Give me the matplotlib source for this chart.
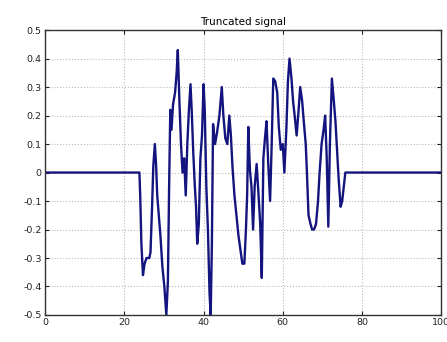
import numpy as np
import matplotlib
matplotlib.use("Agg")
import matplotlib.pyplot as plt

# signal samples (time, amplitude)
sig_t = [0, 23.8, 24.0, 24.3, 24.7, 25.1, 25.6, 26.3, 26.6, 27.0, 27.3, 27.7,
         28.0, 28.3, 28.7, 29.1, 29.6, 30.1, 30.6, 31.0, 31.3, 31.6, 31.9, 32.3,
         32.8, 33.2, 33.5, 33.9, 34.3, 34.7, 35.1, 35.5, 35.9, 36.3, 36.7, 37.0,
         37.4, 37.8, 38.1, 38.4, 38.8, 39.2, 39.6, 40.0, 40.3, 40.7, 41.1, 41.5,
         41.8, 42.1, 42.4, 42.9, 43.4, 44.0, 44.6, 45.0, 45.5, 46.0, 46.5, 46.9,
         47.3, 47.8, 48.3, 48.8, 49.3, 49.8, 50.3, 50.7, 51.0, 51.3, 51.7, 52.1,
         52.5, 52.9, 53.4, 53.8, 54.3, 54.7, 55.1, 55.5, 55.9, 56.3, 56.8, 57.2,
         57.6, 58.1, 58.6, 59.0, 59.5, 60.0, 60.4, 60.9, 61.3, 61.7, 62.2, 62.6,
         63.0, 63.5, 64.0, 64.4, 64.9, 65.3, 65.8, 66.1, 66.5, 67.0, 67.4, 67.9,
         68.4, 68.9, 69.3, 69.8, 70.3, 70.7, 71.1, 71.5, 71.9, 72.4, 72.9, 73.3,
         73.7, 74.1, 74.6, 75.0, 75.4, 75.8, 100]
sig_v = [0, 0, -0.08, -0.25, -0.36, -0.32, -0.30, -0.30, -0.28, -0.12, 0.02, 0.10,
         0.03, -0.08, -0.15, -0.22, -0.33, -0.40, -0.50, -0.38, -0.05, 0.22, 0.15, 0.24,
         0.28, 0.35, 0.43, 0.25, 0.10, 0.00, 0.05, -0.08, 0.10, 0.22, 0.31, 0.22,
         0.07, -0.05, -0.12, -0.25, -0.18, 0.05, 0.13, 0.31, 0.22, -0.05, -0.20, -0.42,
         -0.50, -0.25, 0.17, 0.10, 0.14, 0.20, 0.30, 0.20, 0.12, 0.10, 0.20, 0.13,
         0.02, -0.08, -0.15, -0.22, -0.27, -0.32, -0.32, -0.20, -0.08, 0.16, 0.01, -0.05,
         -0.20, -0.05, 0.03, -0.06, -0.18, -0.37, 0.05, 0.12, 0.18, 0.04, -0.10, 0.10,
         0.33, 0.32, 0.28, 0.16, 0.08, 0.10, 0.00, 0.15, 0.32, 0.40, 0.33, 0.25,
         0.20, 0.13, 0.22, 0.30, 0.25, 0.18, 0.10, 0.00, -0.15, -0.18, -0.20, -0.20,
         -0.18, -0.10, 0.00, 0.10, 0.15, 0.20, 0.05, -0.19, 0.10, 0.33, 0.25, 0.18,
         0.08, -0.02, -0.12, -0.10, -0.05, 0.00, 0]

x_ticks = [0, 20, 40, 60, 80, 100]
y_ticks = [-0.5, -0.4, -0.3, -0.2, -0.1, 0, 0.1, 0.2, 0.3, 0.4, 0.5]
y_labels = ["-0.5", "-0.4", "-0.3", "-0.2", "-0.1", "0",
            "0.1", "0.2", "0.3", "0.4", "0.5"]

fig = plt.figure(figsize=(4.47, 3.42), dpi=100)
ax = fig.add_axes([0.101, 0.079, 0.886, 0.833])

ax.plot(sig_t, sig_v, color="#14147f", linewidth=1.7)

ax.set_xlim(0, 100)
ax.set_ylim(-0.5, 0.5)
ax.set_xticks(x_ticks)
ax.set_yticks(y_ticks)
ax.set_yticklabels(y_labels)
ax.tick_params(direction="in", length=3, labelsize=6.8, top=True, right=True,
               colors="#222222", pad=2.5)
ax.grid(True, linestyle=":", color="#bbbbbb", linewidth=0.8)
for s in ax.spines.values():
    s.set_color("#333333")
    s.set_linewidth(1.0)

ax.set_title("Truncated signal", fontsize=7.5, pad=4)

fig.savefig("out.png", dpi=100)
